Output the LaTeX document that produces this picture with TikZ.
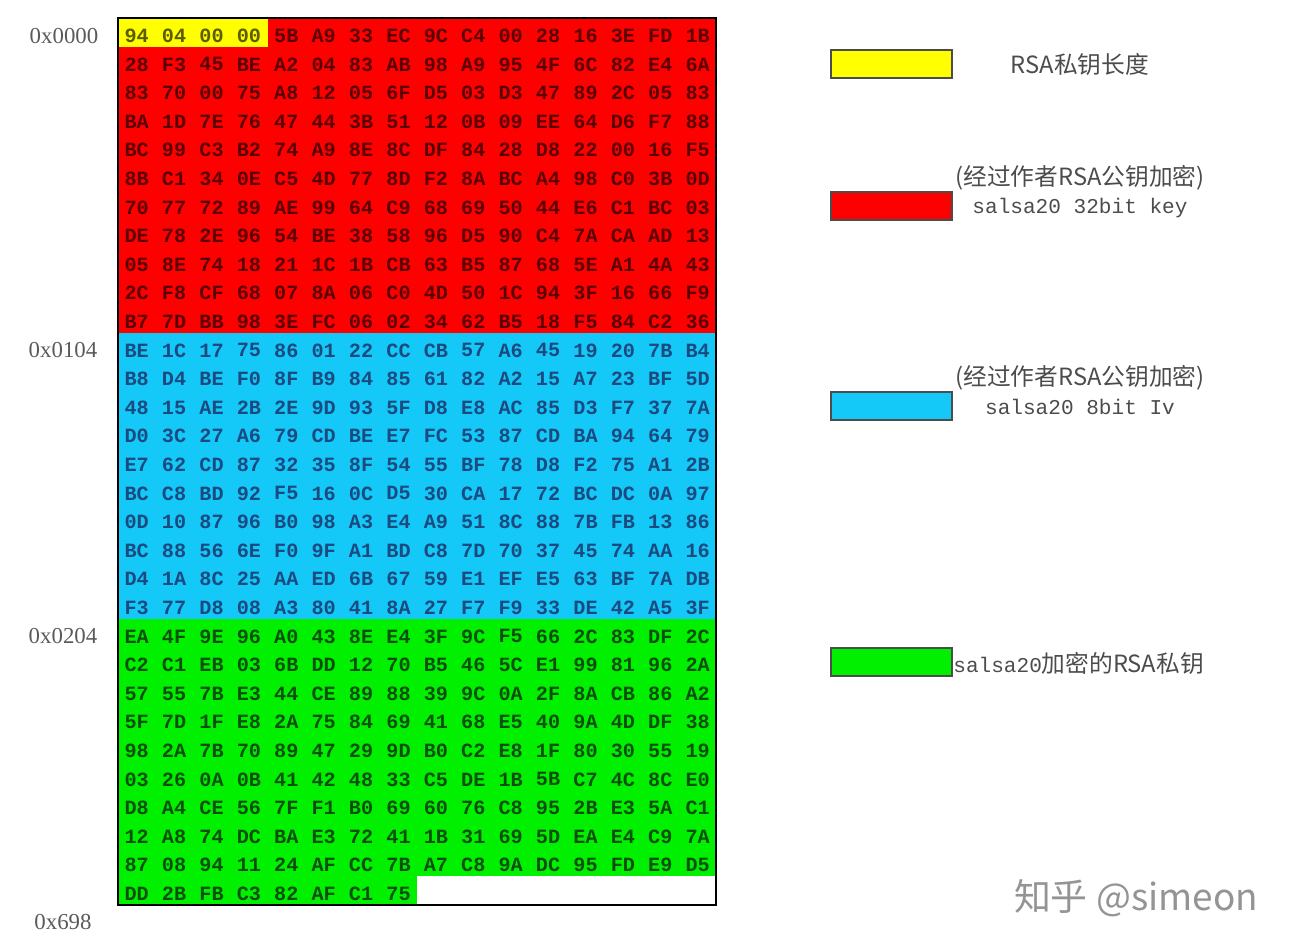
\documentclass[tikz,border=0pt]{standalone}
\usepackage{fontspec}
\setmainfont{Liberation Serif}
\setmonofont{Liberation Mono}
\newfontfamily\cjk{Noto Sans CJK SC}
\usepackage{xcolor}
\usepackage{tikz}
\usetikzlibrary{positioning}
\definecolor{lenyellow}{HTML}{FFFF00}
\definecolor{keyred}{HTML}{FF0000}
\definecolor{ivblue}{HTML}{14C8F8}
\definecolor{privgreen}{HTML}{00F000}
\definecolor{lentext}{HTML}{5C5C00}
\definecolor{keytext}{HTML}{5A0000}
\definecolor{ivtext}{HTML}{1B4A80}
\definecolor{privtext}{HTML}{0B4F0B}
\definecolor{dim}{HTML}{5A5A5A}

\begin{document}
\begin{tikzpicture}[
  x=0.02cm, y=-0.02cm,
  every node/.style={inner sep=0pt},
  byte/.style={font=\fontsize{11.5}{12}\selectfont\ttfamily\bfseries},
  addr/.style={font=\fontsize{13}{14}\selectfont, text=dim},
  swatch/.style={draw=black!70, line width=0.9pt, minimum width=2.42cm, minimum height=0.56cm},
  legtxt/.style={font=\fontsize{13.5}{15}\selectfont\cjk, text=black!70},
  legmono/.style={font=\fontsize{12}{13}\selectfont\ttfamily, text=black!70},
]
\useasboundingbox (0,0) rectangle (1297,949);

% Region fills: key (red), iv (blue), private key (green)
\fill[keyred]    (118,18)    rectangle (716,332.6);
\fill[ivblue]    (118,332.6) rectangle (716,618.6);
\fill[privgreen] (118,618.6) rectangle (716,876);
\fill[privgreen] (118,876)   rectangle (417.2,905);
\fill[lenyellow] (118,18)    rectangle (267.6,46.6);
\draw[line width=1.3pt] (118,18) rectangle (716,905);

% Key length (row 0, first four bytes)
\foreach \b [count=\c from 0] in {94,04,00,00}
  \node[byte, text=lentext] (b0-\c) at ({118+37.4*(\c+0.5)},{21.5+28.6*0.5}) {\b};

% Encrypted salsa20 key
\foreach \row [count=\r from 0] in {
  {,,,,5B,A9,33,EC,9C,C4,00,28,16,3E,FD,1B},
  {28,F3,45,BE,A2,04,83,AB,98,A9,95,4F,6C,82,E4,6A},
  {83,70,00,75,A8,12,05,6F,D5,03,D3,47,89,2C,05,83},
  {BA,1D,7E,76,47,44,3B,51,12,0B,09,EE,64,D6,F7,88},
  {BC,99,C3,B2,74,A9,8E,8C,DF,84,28,D8,22,00,16,F5},
  {8B,C1,34,0E,C5,4D,77,8D,F2,8A,BC,A4,98,C0,3B,0D},
  {70,77,72,89,AE,99,64,C9,68,69,50,44,E6,C1,BC,03},
  {DE,78,2E,96,54,BE,38,58,96,D5,90,C4,7A,CA,AD,13},
  {05,8E,74,18,21,1C,1B,CB,63,B5,87,68,5E,A1,4A,43},
  {2C,F8,CF,68,07,8A,06,C0,4D,50,1C,94,3F,16,66,F9},
  {B7,7D,BB,98,3E,FC,06,02,34,62,B5,18,F5,84,C2,36}}
  \foreach \b [count=\c from 0] in \row
    \node[byte, text=keytext] (k\r-\c) at ({118+37.4*(\c+0.5)},{21.5+28.6*(\r+0.5)}) {\b};

% Encrypted salsa20 iv
\foreach \row [count=\r from 11] in {
  {BE,1C,17,75,86,01,22,CC,CB,57,A6,45,19,20,7B,B4},
  {B8,D4,BE,F0,8F,B9,84,85,61,82,A2,15,A7,23,BF,5D},
  {48,15,AE,2B,2E,9D,93,5F,D8,E8,AC,85,D3,F7,37,7A},
  {D0,3C,27,A6,79,CD,BE,E7,FC,53,87,CD,BA,94,64,79},
  {E7,62,CD,87,32,35,8F,54,55,BF,78,D8,F2,75,A1,2B},
  {BC,C8,BD,92,F5,16,0C,D5,30,CA,17,72,BC,DC,0A,97},
  {0D,10,87,96,B0,98,A3,E4,A9,51,8C,88,7B,FB,13,86},
  {BC,88,56,6E,F0,9F,A1,BD,C8,7D,70,37,45,74,AA,16},
  {D4,1A,8C,25,AA,ED,6B,67,59,E1,EF,E5,63,BF,7A,DB},
  {F3,77,D8,08,A3,80,41,8A,27,F7,F9,33,DE,42,A5,3F}}
  \foreach \b [count=\c from 0] in \row
    \node[byte, text=ivtext] (v\r-\c) at ({118+37.4*(\c+0.5)},{21.5+28.6*(\r+0.5)}) {\b};

% RSA private key, salsa20 encrypted
\foreach \row [count=\r from 21] in {
  {EA,4F,9E,96,A0,43,8E,E4,3F,9C,F5,66,2C,83,DF,2C},
  {C2,C1,EB,03,6B,DD,12,70,B5,46,5C,E1,99,81,96,2A},
  {57,55,7B,E3,44,CE,89,88,39,9C,0A,2F,8A,CB,86,A2},
  {5F,7D,1F,E8,2A,75,84,69,41,68,E5,40,9A,4D,DF,38},
  {98,2A,7B,70,89,47,29,9D,B0,C2,E8,1F,80,30,55,19},
  {03,26,0A,0B,41,42,48,33,C5,DE,1B,5B,C7,4C,8C,E0},
  {D8,A4,CE,56,7F,F1,B0,69,60,76,C8,95,2B,E3,5A,C1},
  {12,A8,74,DC,BA,E3,72,41,1B,31,69,5D,EA,E4,C9,7A},
  {87,08,94,11,24,AF,CC,7B,A7,C8,9A,DC,95,FD,E9,D5},
  {DD,2B,FB,C3,82,AF,C1,75}}
  \foreach \b [count=\c from 0] in \row
    \node[byte, text=privtext] (p\r-\c) at ({118+37.4*(\c+0.5)},{21.5+28.6*(\r+0.5)}) {\b};

% Offsets
\node[addr] (addrLen)  at (64,36)  {0x0000};
\node[addr] (addrIv)   at (63,350) {0x0104};
\node[addr] (addrPriv) at (63,636) {0x0204};
\node[addr] (addrEnd)  at (63,922) {0x698};

% Legend
\node[swatch, fill=lenyellow] (legLen)  at (891.5,64)  {};
\node[swatch, fill=keyred]    (legKey)  at (891.5,206) {};
\node[swatch, fill=ivblue]    (legIv)   at (891.5,406) {};
\node[swatch, fill=privgreen] (legPriv) at (891.5,662) {};

\node[legtxt]  (lenTxt)  at (1080,64)  {RSA私钥长度};
\node[legtxt]  (keyTxt)  at (1080,178) {(经过作者RSA公钥加密)};
\node[legmono] (keyTxt2) at (1080,208) {salsa20 32bit key};
\node[legtxt]  (ivTxt)   at (1080,378) {(经过作者RSA公钥加密)};
\node[legmono] (ivTxt2)  at (1080,407) {salsa20 8bit Iv};
\node[legtxt, anchor=west] (privTxt) at (953,663) {{\fontsize{12}{13}\selectfont\ttfamily salsa20}加密的RSA私钥};

% Watermark
\node[font=\fontsize{21}{24}\selectfont\cjk, text=black!42] (mark) at (1136,898) {知乎 @simeon};
\end{tikzpicture}
\end{document}
